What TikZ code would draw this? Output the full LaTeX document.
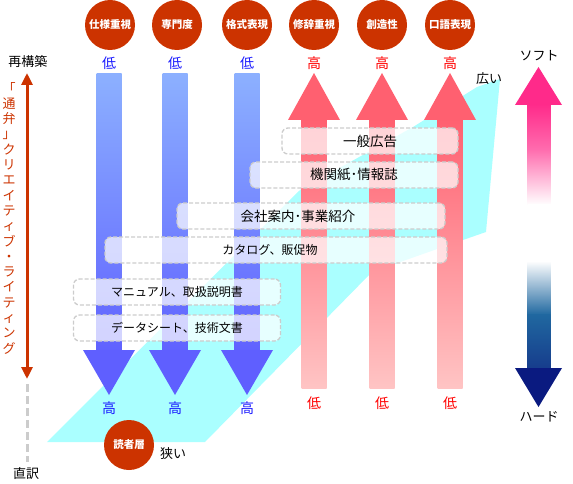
\documentclass[tikz,border=0pt]{standalone}
\usepackage{fontspec}
\setmainfont{Noto Sans CJK JP}
\usetikzlibrary{positioning,arrows.meta}
\definecolor{topicred}{HTML}{CC3300}
\definecolor{floorcyan}{HTML}{AAFFFF}
\definecolor{boxgray}{HTML}{CCCCCC}
\definecolor{hardblue}{HTML}{0A1A80}
\definecolor{softpink}{HTML}{FF2A8A}
\definecolor{softmid}{HTML}{FF6EAF}
\definecolor{hardmid}{HTML}{2068A0}
\definecolor{hardlow}{HTML}{163C8C}
\definecolor{bluetop}{HTML}{8CB0FF}
\definecolor{bluebot}{HTML}{6062FF}
\definecolor{bluehead}{HTML}{5F5FFF}
\definecolor{redtop}{HTML}{FF6070}
\definecolor{redbot}{HTML}{FFC4C4}
\definecolor{lowblue}{HTML}{1A1AFF}
\tikzset{
  topic/.style={circle,fill=topicred,minimum size=50pt,inner sep=0pt,text=white,
    font=\bfseries\fontsize{10.5}{12}\selectfont},
  genre/.style={draw=boxgray,dash pattern=on 4pt off 2pt,line width=1.3pt,rounded corners=6pt,
    fill=white,fill opacity=0.72,text opacity=1,minimum height=26pt,inner sep=0pt,
    font=\fontsize{12}{14}\selectfont},
  biggenre/.style={genre,font=\fontsize{13.5}{15}\selectfont},
  bluelvl/.style={text=lowblue,font=\fontsize{14}{16}\selectfont},
  redlvl/.style={text=red,font=\fontsize{14}{16}\selectfont},
  plain/.style={font=\fontsize{13}{15}\selectfont},
}
\begin{document}
\begin{tikzpicture}[x=1pt,y=-1pt]
\useasboundingbox (0,0) rectangle (573,484);
% floor of readers
\fill[floorcyan] (47,442) -- (205,442) -- (372,272) -- (440,248) -- (486,232) -- (500,79)
  -- (477,87) -- (413,127) -- (300,190) -- cycle;
% blue arrows (low -> high)
\foreach \x/\n in {109/1,175/2,247/3}{
  \shade[top color=bluetop,bottom color=bluebot] (\x-12.5,74) rectangle (\x+12.5,350);
  \fill[bluehead] (\x-26,350) -- (\x+26,350) -- (\x,395) -- cycle;
}
% red arrows (high -> low)
\foreach \x/\n in {314/4,382/5,450/6}{
  \shade[top color=redtop,bottom color=redbot] (\x-12.5,119) rectangle (\x+12.5,388);
  \fill[redtop] (\x-26,120) -- (\x+26,120) -- (\x,73) -- cycle;
}
% topics
\foreach \x/\n/\t in {110/t1/仕様重視,177/t2/専門度,247/t3/格式表現,314/t4/修辞重視,382/t5/創造性,450/t6/口語表現}
  \node[topic] (\n) at (\x,25) {\t};
\foreach \x/\n in {109/l1,175/l2,247/l3}{
  \node[bluelvl] (\n top) at (\x,63) {低};
  \node[bluelvl] (\n bot) at (\x,408) {高};
}
\foreach \x/\n in {314/l4,382/l5,450/l6}{
  \node[redlvl] (\n top) at (\x,63) {高};
  \node[redlvl] (\n bot) at (\x,403) {低};
}
% genres
\node[biggenre,minimum width=176pt] (ad) at (370,141) {一般広告};
\node[biggenre,minimum width=208pt] (paper) at (354,175) {機関紙･情報誌};
\node[biggenre,minimum width=268pt] (company) at (311,216) {\hspace*{-26pt}会社案内･事業紹介};
\node[genre,minimum width=342pt] (catalog) at (276,250) {\hspace*{-12pt}カタログ、販促物};
\node[genre,minimum width=207pt] (manual) at (177,292) {マニュアル、取扱説明書};
\node[genre,minimum width=207pt] (sheet) at (177,328) {データシート、技術文書};
% readers
\node[topic] (reader) at (129,445) {読者層};
\node[plain] (narrow) at (173,454) {狭い};
\node[plain] (wide) at (489,79) {広い};
% left axis
\node[plain] (rebuild) at (28,62) {再構築};
\node[plain] (literal) at (26,474) {直訳};
\coordinate (rtop) at (27,73);
\coordinate (rbot) at (27,379);
\coordinate (dend) at (27,462);
\draw[topicred,line width=3pt,{Triangle[width=11pt,length=12pt]}-{Triangle[width=11pt,length=12pt]}] (rtop) -- (rbot);
\draw[boxgray,line width=3pt,dash pattern=on 8pt off 4pt] (27,384) -- (dend);
\node[text=topicred,align=center,font=\fontsize{13}{15.3}\selectfont] (creative) at (9,218)
  {「\\通\\弁\\」\\ク\\リ\\エ\\イ\\テ\\ィ\\ブ\\・\\ラ\\イ\\テ\\ィ\\ン\\グ};
% soft / hard
\shade[top color=softpink,bottom color=softmid] (527.5,104) rectangle (550.5,151);
\shade[top color=softmid,bottom color=white] (527.5,150) rectangle (550.5,205);
\fill[white] (527.5,204) rectangle (550.5,262);
\shade[top color=white,bottom color=hardmid] (527.5,261) rectangle (550.5,315);
\shade[top color=hardmid,bottom color=hardlow] (527.5,314) rectangle (550.5,369);
\fill[softpink] (515,105) -- (562,105) -- (538.5,67) -- cycle;
\fill[hardblue] (515,368) -- (562,368) -- (538.5,407) -- cycle;
\node[plain] (soft) at (539,56) {ソフト};
\node[plain] (hard) at (539,417) {ハード};
\end{tikzpicture}
\end{document}
